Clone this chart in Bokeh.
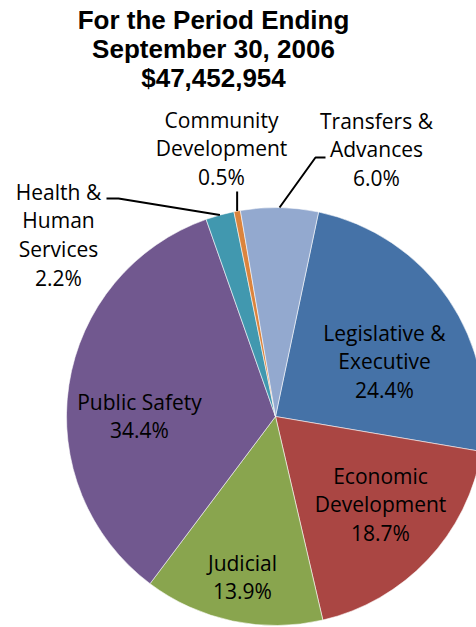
import math
from bokeh.plotting import figure
from bokeh.models import Range1d
from bokeh.core.properties import value
from bokeh.embed import file_html
from bokeh.resources import INLINE

# ---- data ----
categories = ["Legislative &\nExecutive", "Economic\nDevelopment", "Judicial",
              "Public Safety", "Health &\nHuman\nServices", "Community\nDevelopment",
              "Transfers &\nAdvances"]
percents = [24.4, 18.7, 13.9, 34.4, 2.2, 0.5, 6.0]
colors = ["#4572A7", "#AA4643", "#89A54E", "#71588F", "#4198AF", "#DB843D", "#93A9CF"]
title_lines = ["For the Period Ending", "September 30, 2006", "$47,452,954"]

# ---- layout (reference pixel space) ----
W, H = 476, 627
TXT_OFF = -8  # baseline correction for text rendering
def X(x): return x
def Y(y): return H - y

cx, cy, R = 275, 416, 209
start_deg = 11.9  # clockwise from 12 o'clock where the first slice begins

p = figure(width=W, height=H, output_backend="svg", toolbar_location=None,
           x_range=Range1d(0, W), y_range=Range1d(0, H), min_border=0)
p.axis.visible = False
p.grid.visible = False
p.outline_line_color = None
p.background_fill_color = "white"

total = sum(percents)
angles = []
acc = start_deg
for v in percents:
    a0 = acc
    a1 = acc + v / total * 360.0
    angles.append((a0, a1))
    acc = a1

starts = [math.radians(90 - a0) for a0, a1 in angles]
ends = [math.radians(90 - a1) for a0, a1 in angles]
p.wedge(x=[X(cx)] * len(percents), y=[Y(cy)] * len(percents), radius=R,
        start_angle=starts, end_angle=ends, direction="clock",
        fill_color=colors, line_color="white", line_width=0.8, line_alpha=0.7)

# label anchors (center x, first baseline y)
label_pos = [(384, 340), (380, 483), (242, 570), (139, 409), (58, 199), (221, 127), (376, 128)]
LS = 28.8
FONT = "Open Sans"
FS = "21px"
for name, v, (lx, ly) in zip(categories, percents, label_pos):
    lines = name.split("\n") + [f"{v:.1f}%"]
    xs = [X(lx)] * len(lines)
    ys = [Y(ly + TXT_OFF + i * LS) for i in range(len(lines))]
    p.text(x=xs, y=ys, text=lines, text_align="center", text_baseline="alphabetic",
           text_font=value(FONT), text_font_size=FS, text_color="black")

# leader lines: from label to slice edge at mid-angle
def edge(i, r=R):
    a0, a1 = angles[i]
    m = math.radians((a0 + a1) / 2)
    return cx + r * math.sin(m), cy - r * math.cos(m)

hx, hy = edge(4)
p.line(x=[X(106), X(118), X(hx)], y=[Y(198), Y(198), Y(hy)], line_color="black", line_width=2)
ccx, ccy = edge(5)
p.line(x=[X(ccx), X(ccx)], y=[Y(191), Y(ccy)], line_color="black", line_width=2)
tx, ty = edge(6)
p.line(x=[X(325), X(315), X(tx)], y=[Y(157), Y(157), Y(ty)], line_color="black", line_width=2)

# title
for i, t in enumerate(title_lines):
    p.text(x=[X(213)], y=[Y(27 + TXT_OFF + i * 29)], text=[t], text_align="center",
           text_baseline="alphabetic", text_font=value("Liberation Sans"),
           text_font_style="bold", text_font_size="26px", text_color="black")

open("out.html", "w").write(file_html(p, INLINE))
